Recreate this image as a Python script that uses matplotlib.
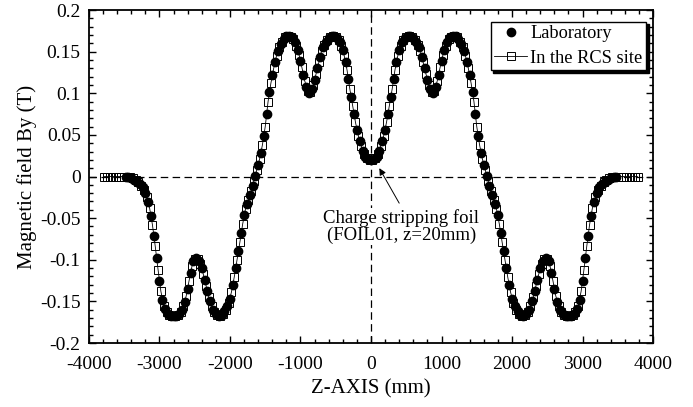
import numpy as np
import matplotlib
matplotlib.use("Agg")
import matplotlib.pyplot as plt
from matplotlib.ticker import MultipleLocator, FuncFormatter

plt.rcParams['font.family'] = ['Liberation Serif', 'DejaVu Serif']
plt.rcParams['axes.unicode_minus'] = False

# ----------------- DATA -----------------
# Laboratory measurement, z grid every 40 mm from -3480 to 3480
lab_z = np.arange(-3480, 3481, 40)
lab_by = [
    0.000, -0.001, -0.002, -0.004, -0.006, -0.009, -0.013, -0.020,
    -0.031, -0.048, -0.071, -0.098, -0.126, -0.148, -0.159, -0.165, -0.167, -0.168,
    -0.167, -0.165, -0.160, -0.151, -0.135, -0.116, -0.102, -0.098, -0.101, -0.110,
    -0.124, -0.138, -0.150, -0.160, -0.165, -0.167, -0.166, -0.162, -0.156, -0.147,
    -0.130, -0.110, -0.090, -0.068, -0.046, -0.033, -0.022, -0.011, 0.001, 0.014,
    0.028, 0.049, 0.075, 0.102, 0.122, 0.138, 0.151, 0.159, 0.165, 0.169,
    0.169, 0.167, 0.161, 0.152, 0.139, 0.122, 0.108, 0.100, 0.105, 0.116,
    0.130, 0.144, 0.155, 0.161, 0.166, 0.169, 0.169, 0.166, 0.161, 0.152,
    0.138, 0.117, 0.095, 0.075, 0.056, 0.043, 0.031, 0.024, 0.021,
    0.020, 0.021, 0.024, 0.031, 0.043, 0.056, 0.075, 0.095, 0.117, 0.138,
    0.152, 0.161, 0.166, 0.169, 0.169, 0.166, 0.161, 0.155, 0.144, 0.130,
    0.116, 0.105, 0.100, 0.108, 0.122, 0.139, 0.152, 0.161, 0.167, 0.169,
    0.169, 0.165, 0.159, 0.151, 0.138, 0.122, 0.102, 0.075, 0.049, 0.028,
    0.014, 0.001, -0.011, -0.022, -0.033, -0.046, -0.068, -0.090, -0.110, -0.130,
    -0.147, -0.156, -0.162, -0.166, -0.167, -0.165, -0.160, -0.150, -0.138, -0.124,
    -0.110, -0.101, -0.098, -0.102, -0.116, -0.135, -0.151, -0.160, -0.165, -0.167,
    -0.168, -0.167, -0.165, -0.159, -0.148, -0.126, -0.098, -0.071, -0.048, -0.031,
    -0.020, -0.013, -0.009, -0.006, -0.004, -0.002, -0.001, 0.000,
]

# Measurement in the RCS site, z grid every 40 mm from -3780 to 3780
rcs_z = np.arange(-3780, 3781, 40)
rcs_by = [
    0.000, 0.000, 0.000, 0.000, 0.000,
    0.000, 0.000, 0.000, 0.000, -0.001, -0.002, -0.004, -0.007, -0.011, -0.016,
    -0.025, -0.038, -0.058, -0.084, -0.112, -0.138, -0.155, -0.163, -0.166, -0.168,
    -0.168, -0.166, -0.163, -0.156, -0.143, -0.125, -0.108, -0.099, -0.099, -0.105,
    -0.117, -0.131, -0.145, -0.155, -0.163, -0.166, -0.167, -0.165, -0.160, -0.152,
    -0.139, -0.121, -0.100, -0.079, -0.057, -0.039, -0.028, -0.017, -0.005, 0.008,
    0.021, 0.038, 0.060, 0.090, 0.112, 0.130, 0.145, 0.156, 0.162, 0.167,
    0.169, 0.168, 0.165, 0.157, 0.146, 0.131, 0.115, 0.103, 0.101, 0.110,
    0.123, 0.137, 0.151, 0.158, 0.164, 0.168, 0.169, 0.168, 0.164, 0.157,
    0.145, 0.128, 0.105, 0.085, 0.065, 0.049, 0.037, 0.027, 0.022, 0.020,
    0.020, 0.022, 0.027, 0.037, 0.049, 0.065, 0.085, 0.105, 0.128, 0.145,
    0.157, 0.164, 0.168, 0.169, 0.168, 0.164, 0.158, 0.151, 0.137, 0.123,
    0.110, 0.101, 0.103, 0.115, 0.131, 0.146, 0.157, 0.165, 0.168, 0.169,
    0.167, 0.162, 0.156, 0.145, 0.130, 0.112, 0.090, 0.060, 0.038, 0.021,
    0.008, -0.005, -0.017, -0.028, -0.039, -0.057, -0.079, -0.100, -0.121, -0.139,
    -0.152, -0.160, -0.165, -0.167, -0.166, -0.163, -0.155, -0.145, -0.131, -0.117,
    -0.105, -0.099, -0.099, -0.108, -0.125, -0.143, -0.156, -0.163, -0.166, -0.168,
    -0.168, -0.166, -0.163, -0.155, -0.138, -0.112, -0.084, -0.058, -0.038, -0.025,
    -0.016, -0.011, -0.007, -0.004, -0.002, -0.001, 0.000, 0.000, 0.000, 0.000,
    0.000, 0.000, 0.000, 0.000, 0.000,
]

foil_point = (118, 0.010)
foil_text = "Charge stripping foil\n(FOIL01, z=20mm)"

# ----------------- FIGURE -----------------
fig = plt.figure(figsize=(6.93, 4.07), dpi=100)
ax = fig.add_axes([0.1284, 0.1572, 0.8139, 0.8182])

ax.axhline(0, color='k', lw=0.9, ls=(0, (6, 3.5)), zorder=1)
ax.axvline(0, color='k', lw=0.9, ls=(0, (6, 3.5)), zorder=1)

ax.plot(lab_z, lab_by, ls='none', marker='o', ms=6.0, mfc='k', mec='k',
        label="Laboratory", zorder=3)
ax.plot(rcs_z, rcs_by, ls='-', lw=0.6, color='k', marker='s', ms=5.6,
        mfc='none', mec='k', mew=0.7, label="In the RCS site", zorder=2)

# annotation for the foil (text sits on a white patch over the dashed line)
ax.annotate("", xy=foil_point, xytext=(400, -0.032),
            arrowprops=dict(arrowstyle='-|>', color='k', lw=0.7,
                            mutation_scale=10, shrinkA=0, shrinkB=0))
ax.text(430, -0.039, foil_text, ha='center', va='top', fontsize=13.5,
        linespacing=1.0, zorder=4,
        bbox=dict(facecolor='white', edgecolor='none', pad=0.5))

ax.set_xlim(-4000, 4000)
ax.set_ylim(-0.2, 0.2)
ax.xaxis.set_major_locator(MultipleLocator(1000))
ax.xaxis.set_minor_locator(MultipleLocator(200))
ax.yaxis.set_major_locator(MultipleLocator(0.05))
ax.yaxis.set_minor_locator(MultipleLocator(0.01))
ax.yaxis.set_major_formatter(FuncFormatter(lambda v, p: "%g" % round(v, 3)))
ax.xaxis.set_major_formatter(FuncFormatter(lambda v, p: "%d" % v))

ax.tick_params(which='both', direction='in', top=True, right=True,
               labelsize=14, width=1.0)
ax.tick_params(which='major', length=5)
ax.tick_params(which='minor', length=3)
ax.tick_params(axis='x', pad=9)
ax.tick_params(axis='y', pad=6)
for s in ax.spines.values():
    s.set_linewidth(1.3)

ax.set_xlabel("Z-AXIS (mm)", fontsize=15, labelpad=5)
ax.set_ylabel("Magnetic field By (T)", fontsize=15, labelpad=2)

leg = ax.legend(loc='upper right', bbox_to_anchor=(0.9876, 0.965),
                borderaxespad=0, fontsize=13.2, numpoints=1,
                handlelength=1.8, handletextpad=0.15, labelspacing=0.4,
                borderpad=0.2, fancybox=False, edgecolor='k',
                shadow={'color': 'k', 'alpha': 1, 'ox': 2, 'oy': -2})
leg.get_frame().set_linewidth(1.0)
leg.get_frame().set_alpha(1)

fig.savefig("out.png", dpi=100)
